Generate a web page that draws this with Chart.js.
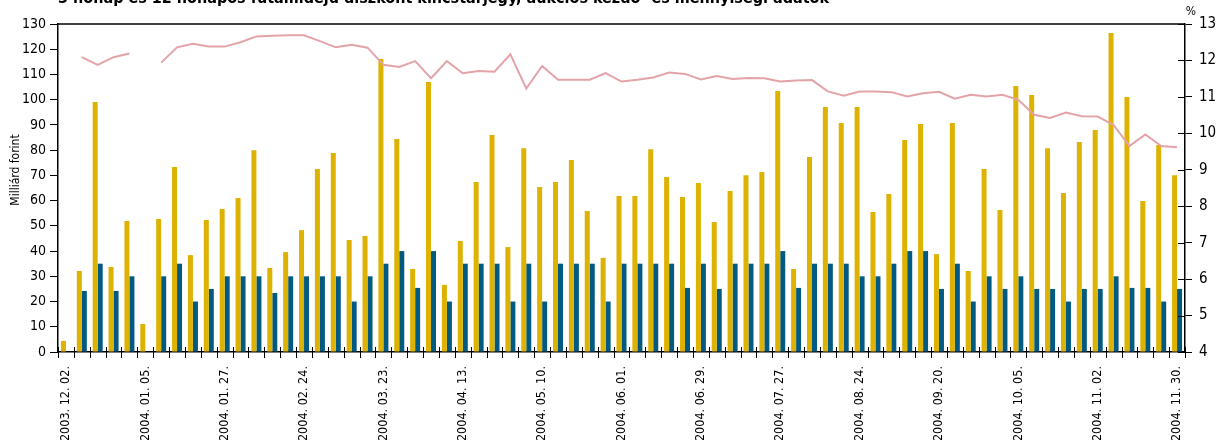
<!DOCTYPE html>
<html lang="hu">
<head>
<meta charset="utf-8">
<script src="https://cdn.jsdelivr.net/npm/chart.js@4.4.1/dist/chart.umd.min.js"></script>
<style>
  html, body { margin: 0; padding: 0; background: #fff; }
  #wrap { width: 1220px; height: 440px; }
</style>
</head>
<body>
<div id="wrap"><canvas id="aukcioChart"></canvas></div>
<script>
// aukciók dátumai (csak minden ötödik van feliratozva az ábrán)
const categories = [
  '2003. 12. 02.', '', '', '', '', '2004. 01. 05.', '', '', '', '',
  '2004. 01. 27.', '', '', '', '', '2004. 02. 24.', '', '', '', '',
  '2004. 03. 23.', '', '', '', '', '2004. 04. 13.', '', '', '', '',
  '2004. 05. 10.', '', '', '', '', '2004. 06. 01.', '', '', '', '',
  '2004. 06. 29.', '', '', '', '', '2004. 07. 27.', '', '', '', '',
  '2004. 08. 24.', '', '', '', '', '2004. 09. 20.', '', '', '', '',
  '2004. 10. 05.', '', '', '', '', '2004. 11. 02.', '', '', '', '',
  '2004. 11. 30.'
];

// benyújtott ajánlatok, milliárd forint
const benyujtott = [
  4.4, 32.1, 99.1, 33.7, 51.9, 11.1, 52.7, 73.3, 38.4, 52.3,
  56.7, 61, 80, 33.3, 39.6, 48.3, 72.5, 78.9, 44.4, 46,
  116.1, 84.4, 32.9, 107, 26.6, 44, 67.4, 86, 41.6, 80.8,
  65.4, 67.4, 76.1, 55.9, 37.3, 61.8, 61.8, 80.4, 69.4, 61.4,
  67, 51.5, 63.8, 70.1, 71.3, 103.4, 32.9, 77.3, 97.1, 90.8,
  97.1, 55.5, 62.6, 84, 90.4, 38.8, 90.8, 32.1, 72.5, 56.3,
  105.4, 101.9, 80.8, 63, 83.2, 88, 126.4, 101.1, 59.8, 82,
  70.1
];

// meghirdetett mennyiség, milliárd forint
const meghirdetett = [
  null, 24.2, 35, 24.2, 30, null, 30, 35, 20, 25,
  30, 30, 30, 23.4, 30, 30, 30, 30, 20, 30,
  35, 40, 25.4, 40, 20, 35, 35, 35, 20, 35,
  20, 35, 35, 35, 20, 35, 35, 35, 35, 25.4,
  35, 25, 35, 35, 35, 40, 25.4, 35, 35, 35,
  30, 30, 35, 40, 40, 25, 35, 20, 30, 25,
  30, 25, 25, 20, 25, 25, 30, 25.4, 25.4, 20,
  25
];

// átlaghozam, % (jobb tengely)
const atlagHozam = [
  null, 12.09, 11.88, 12.09, 12.19, null, 11.94, 12.36, 12.46, 12.38,
  12.38, 12.5, 12.66, 12.68, 12.69, 12.69, 12.53, 12.36, 12.43, 12.35,
  11.88, 11.82, 11.98, 11.51, 11.98, 11.65, 11.71, 11.69, 12.17, 11.23,
  11.85, 11.47, 11.47, 11.47, 11.65, 11.42, 11.47, 11.53, 11.67, 11.63,
  11.48, 11.57, 11.49, 11.52, 11.51, 11.42, 11.45, 11.46, 11.15, 11.03,
  11.15, 11.15, 11.13, 11.01, 11.10, 11.14, 10.95, 11.06, 11.01, 11.06,
  10.92, 10.51, 10.42, 10.57, 10.47, 10.46, 10.23, 9.65, 9.97, 9.65,
  9.62
];

const leftTicks = [0, 10, 20, 30, 40, 50, 60, 70, 80, 90, 100, 110, 120, 130];
const rightTicks = [4, 5, 6, 7, 8, 9, 10, 11, 12, 13];

const chartTitle = '3 hónap és 12 hónapos futamidejű diszkont kincstárjegy, aukciós kezdő- és mennyiségi adatok';
const narrow = "'Liberation Sans Narrow', 'DejaVu Sans Condensed', 'Arial Narrow', sans-serif";

const decor = {
  id: 'decor',
  afterDraw(chart) {
    const { ctx, chartArea, scales } = chart;
    const x = scales.x;
    const r = scales.y1;
    ctx.save();
    ctx.strokeStyle = '#000';

    // felső keretvonal
    ctx.lineWidth = 1.5;
    ctx.beginPath();
    ctx.moveTo(chartArea.left, chartArea.top);
    ctx.lineTo(chartArea.right, chartArea.top);
    ctx.stroke();

    // kategóriahatárok jelölése az x tengelyen
    ctx.lineWidth = 1;
    const step = x.width / categories.length;
    ctx.beginPath();
    for (let i = 0; i <= categories.length; i++) {
      const px = Math.round(x.left + i * step) + 0.5;
      ctx.moveTo(px, chartArea.bottom - 5);
      ctx.lineTo(px, chartArea.bottom + 6);
    }
    ctx.stroke();

    // jobb tengely belső jelölései
    ctx.beginPath();
    rightTicks.forEach(v => {
      const py = Math.round(r.getPixelForValue(v)) + 0.5;
      ctx.moveTo(r.left - 7, py);
      ctx.lineTo(r.left, py);
    });
    ctx.stroke();

    ctx.fillStyle = '#000';
    // cím (az ábra tetején levágva)
    ctx.font = 'bold 16px ' + narrow;
    ctx.textAlign = 'left';
    ctx.textBaseline = 'alphabetic';
    ctx.fillText(chartTitle, chartArea.left, 3);

    // % felirat
    ctx.font = '12px ' + narrow;
    ctx.textAlign = 'center';
    ctx.textBaseline = 'middle';
    ctx.fillText('%', r.left + 6, 12);

    // bal tengely címe
    ctx.translate(16, 170);
    ctx.rotate(-Math.PI / 2);
    ctx.font = '12px ' + narrow;
    ctx.fillText('Milliárd forint', 0, 0);
    ctx.restore();
  }
};

const ctx = document.getElementById('aukcioChart').getContext('2d');
const aukcioChart = new Chart(ctx, {
  type: 'bar',
  data: {
    labels: categories,
    datasets: [
      {
        label: 'Benyújtott ajánlatok',
        data: benyujtott,
        backgroundColor: '#DDB200',
        yAxisID: 'y',
        order: 2
      },
      {
        label: 'Meghirdetett mennyiség',
        data: meghirdetett,
        backgroundColor: '#005A81',
        yAxisID: 'y',
        order: 2
      },
      {
        type: 'line',
        label: 'Átlaghozam',
        data: atlagHozam,
        borderColor: '#E3A3A8',
        borderWidth: 2,
        pointRadius: 0,
        tension: 0,
        spanGaps: false,
        yAxisID: 'y1',
        order: 1
      }
    ]
  },
  options: {
    responsive: true,
    maintainAspectRatio: false,
    animation: false,
    layout: { padding: { top: 24, left: 0, right: 0, bottom: 0 } },
    datasets: {
      bar: { categoryPercentage: 0.63, barPercentage: 1.0 }
    },
    plugins: {
      legend: { display: false },
      tooltip: { enabled: false },
      title: { display: false }
    },
    scales: {
      x: {
        type: 'category',
        offset: true,
        grid: { display: false, offset: true },
        border: { display: true, color: '#000', width: 1.5 },
        ticks: {
          autoSkip: false,
          maxRotation: 90,
          minRotation: 90,
          padding: 6,
          color: '#000',
          font: { family: narrow, size: 12.5 }
        },
        afterFit(scale) { scale.height = 88; }
      },
      y: {
        position: 'left',
        min: leftTicks[0],
        max: leftTicks[leftTicks.length - 1],
        ticks: {
          stepSize: 10,
          padding: 4,
          color: '#000',
          font: { family: narrow, size: 14 }
        },
        grid: { drawOnChartArea: false, drawTicks: true, tickLength: 8, color: '#000' },
        border: { display: true, color: '#000', width: 1.5 },
        afterFit(scale) { scale.width = 58; }
      },
      y1: {
        position: 'right',
        min: rightTicks[0],
        max: rightTicks[rightTicks.length - 1],
        ticks: {
          stepSize: 1,
          padding: 7,
          color: '#000',
          font: { family: narrow, size: 15 }
        },
        grid: { drawOnChartArea: false, drawTicks: true, tickLength: 7, color: '#000' },
        border: { display: true, color: '#000', width: 1.5 },
        afterFit(scale) { scale.width = 35; }
      }
    }
  },
  plugins: [decor]
});
</script>
</body>
</html>
